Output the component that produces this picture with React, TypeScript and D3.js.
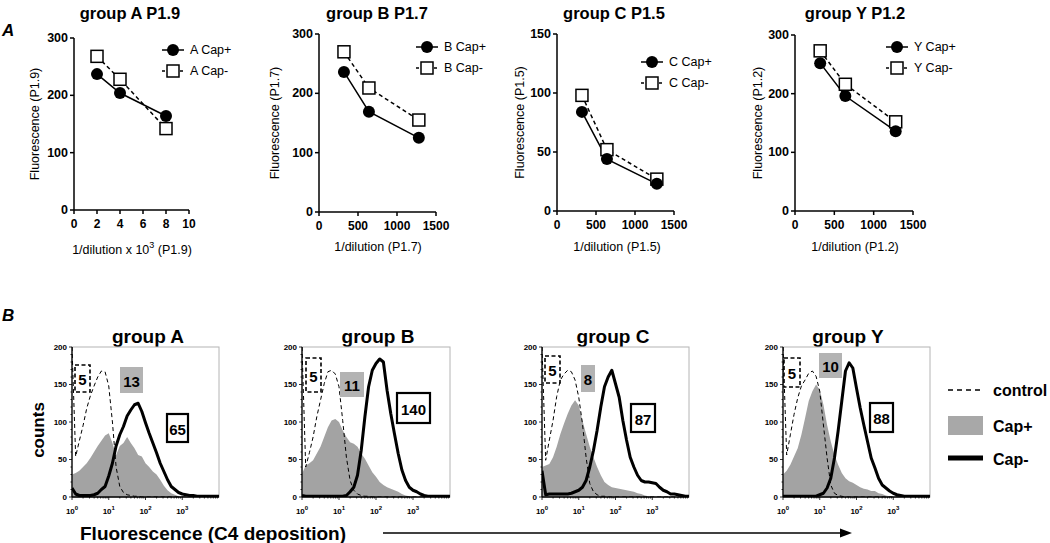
import React from 'react';
import * as d3 from 'd3';

const FONT = '"Liberation Sans", Arial, sans-serif';

// ---------- Panel A: titration curves ----------
const dilutionA = [2, 4, 8];
const dilutionBCY = [320, 640, 1280];
const capPlusA = [237, 204, 164];
const capMinusA = [268, 228, 142];
const capPlusB = [236, 169, 125];
const capMinusB = [270, 209, 155];
const capPlusC = [84, 44, 23];
const capMinusC = [98, 52, 27];
const capPlusY = [252, 196, 136];
const capMinusY = [273, 216, 152];

const ticks300 = [0, 100, 200, 300];
const ticks150 = [0, 50, 100, 150];
const ticksX10 = [0, 2, 4, 6, 8, 10];
const ticksX1500 = [0, 500, 1000, 1500];

// ---------- Panel B: flow histograms (counts at log10 fluorescence 0..4, step 0.1) ----------
const logBins = d3.range(0, 41).map((i) => i / 10);

const controlA = [200, 54, 75, 95, 118, 135, 148, 160, 168, 167, 148, 100, 40, 14, 6, 3, 2, 1, 1, 0, 0, 0, 0, 0, 0, 0, 0, 0, 0, 0, 0, 0, 0, 0, 0, 0, 0, 0, 0, 0, 0];
const plusA = [30, 32, 35, 40, 45, 52, 60, 68, 75, 82, 85, 72, 56, 68, 72, 80, 72, 65, 56, 54, 45, 40, 34, 30, 23, 15, 9, 5, 3, 1, 0, 0, 0, 0, 0, 0, 0, 0, 0, 0, 0];
const minusA = [12, 4, 2, 2, 2, 2, 3, 5, 10, 14, 28, 45, 68, 83, 94, 108, 116, 123, 125, 114, 99, 85, 72, 59, 45, 34, 23, 14, 10, 6, 4, 3, 2, 2, 1, 1, 1, 1, 1, 1, 1];

const controlB = [200, 40, 59, 80, 107, 129, 151, 167, 169, 164, 147, 102, 53, 22, 9, 4, 2, 1, 1, 0, 0, 0, 0, 0, 0, 0, 0, 0, 0, 0, 0, 0, 0, 0, 0, 0, 0, 0, 0, 0, 0];
const plusB = [31, 42, 45, 49, 58, 67, 80, 93, 102, 104, 100, 89, 80, 73, 71, 67, 58, 51, 42, 33, 27, 20, 16, 13, 11, 9, 7, 4, 2, 1, 0, 0, 0, 0, 0, 0, 0, 0, 0, 0, 0];
const minusB = [2, 1, 1, 1, 1, 1, 1, 1, 1, 1, 1, 1, 2, 7, 13, 29, 62, 107, 147, 169, 178, 184, 180, 142, 111, 84, 58, 36, 22, 13, 9, 7, 4, 2, 1, 1, 1, 1, 1, 1, 1];

const controlC = [200, 49, 76, 102, 134, 156, 164, 169, 167, 156, 133, 98, 53, 18, 7, 3, 1, 1, 0, 0, 0, 0, 0, 0, 0, 0, 0, 0, 0, 0, 0, 0, 0, 0, 0, 0, 0, 0, 0, 0, 0];
const plusC = [40, 42, 44, 53, 67, 84, 98, 111, 122, 129, 122, 102, 84, 67, 53, 40, 29, 20, 16, 13, 12, 11, 10, 9, 8, 7, 5, 4, 2, 1, 0, 0, 0, 0, 0, 0, 0, 0, 0, 0, 0];
const minusC = [35, 3, 4, 4, 4, 4, 4, 4, 5, 7, 9, 13, 22, 40, 62, 89, 120, 147, 160, 169, 151, 133, 102, 76, 53, 40, 29, 22, 20, 20, 19, 18, 13, 9, 7, 4, 4, 3, 2, 1, 1];

const controlY = [200, 56, 83, 110, 132, 148, 156, 165, 168, 161, 141, 96, 52, 16, 5, 2, 1, 0, 0, 0, 0, 0, 0, 0, 0, 0, 0, 0, 0, 0, 0, 0, 0, 0, 0, 0, 0, 0, 0, 0, 0];
const plusY = [30, 35, 43, 54, 65, 83, 105, 128, 141, 150, 143, 123, 96, 74, 56, 43, 32, 25, 21, 19, 16, 13, 11, 10, 8, 8, 5, 4, 2, 1, 0, 0, 0, 0, 0, 0, 0, 0, 0, 0, 0];
const minusY = [1, 1, 1, 1, 1, 1, 1, 1, 1, 1, 3, 5, 12, 25, 52, 88, 128, 168, 179, 172, 145, 119, 96, 74, 52, 39, 25, 16, 12, 8, 5, 3, 2, 1, 1, 1, 1, 1, 1, 1, 1];

const countTicks = [0, 50, 100, 150, 200];
const decades = [0, 1, 2, 3];
const mfiControl = ['5', '5', '5', '5'];
const mfiPlus = ['13', '11', '8', '10'];
const mfiMinus = ['65', '140', '87', '88'];

const linePanels = [
  { title: 'group A P1.9', g: 'A', xs: dilutionA, plus: capPlusA, minus: capMinusA, xMax: 10, xTicks: ticksX10, yMax: 300, yTicks: ticks300, yLabel: 'Fluorescence (P1.9)', xLabel: 'P1.9', sup: true,
    l: 74, r: 189, t: 38, b: 210, titleX: 130, yLabX: 35, legX: 173, legY: 50, xLabX: 132, xLabY: 250 },
  { title: 'group B P1.7', g: 'B', xs: dilutionBCY, plus: capPlusB, minus: capMinusB, xMax: 1500, xTicks: ticksX1500, yMax: 300, yTicks: ticks300, yLabel: 'Fluorescence (P1.7)', xLabel: 'P1.7', sup: false,
    l: 319, r: 436, t: 34, b: 212, titleX: 377, yLabX: 275, legX: 427, legY: 47, xLabX: 378, xLabY: 247 },
  { title: 'group C P1.5', g: 'C', xs: dilutionBCY, plus: capPlusC, minus: capMinusC, xMax: 150 * 10, xTicks: ticksX1500, yMax: 150, yTicks: ticks150, yLabel: 'Fluorescence (P1.5)', xLabel: 'P1.5', sup: false,
    l: 557, r: 674, t: 34, b: 211, titleX: 614, yLabX: 520, legX: 652, legY: 62, xLabX: 617, xLabY: 247 },
  { title: 'group Y P1.2', g: 'Y', xs: dilutionBCY, plus: capPlusY, minus: capMinusY, xMax: 1500, xTicks: ticksX1500, yMax: 300, yTicks: ticks300, yLabel: 'Fluorescence (P1.2)', xLabel: 'P1.2', sup: false,
    l: 795, r: 913, t: 35, b: 211, titleX: 855, yLabX: 758, legX: 897, legY: 47, xLabX: 855, xLabY: 247 },
];

const histPanels = [
  { title: 'group A', control: controlA, plus: plusA, minus: minusA, l: 72, r: 219, titleX: 148,
    boxes: [[75, 365, 90, 392], [120, 367, 143, 393], [167, 414, 188, 442]] },
  { title: 'group B', control: controlB, plus: plusB, minus: minusB, l: 302, r: 450, titleX: 378,
    boxes: [[306, 358, 321, 392], [340, 372, 364, 397], [397, 393, 430, 423]] },
  { title: 'group C', control: controlC, plus: plusC, minus: minusC, l: 542, r: 689, titleX: 613,
    boxes: [[545, 356, 560, 383], [581, 365, 595, 392], [631, 404, 655, 432]] },
  { title: 'group Y', control: controlY, plus: plusY, minus: minusY, l: 783, r: 930, titleX: 848,
    boxes: [[784, 358, 800, 387], [819, 353, 842, 378], [870, 403, 893, 432]] },
];

const H_TOP = 347;
const H_BOT = 497;

const LinePanel: React.FC<{ p: any }> = ({ p }) => {
  const x = d3.scaleLinear().domain([0, p.xMax]).range([p.l, p.r]);
  const y = d3.scaleLinear().domain([0, p.yMax]).range([p.b, p.t]);
  const line = d3.line<number>().x((_, i) => x(p.xs[i])).y((d) => y(d));
  return (
    <g fontFamily={FONT}>
      <text x={p.titleX} y={19} textAnchor="middle" fontSize={16.5} fontWeight="bold">{p.title}</text>
      {/* axes */}
      <line x1={p.l} x2={p.l} y1={p.t} y2={p.b} stroke="#000" strokeWidth={1.5} />
      <line x1={p.l} x2={p.r} y1={p.b} y2={p.b} stroke="#000" strokeWidth={1.5} />
      {p.yTicks.map((t: number) => (
        <g key={'y' + t}>
          <line x1={p.l - 4} x2={p.l} y1={y(t)} y2={y(t)} stroke="#000" strokeWidth={1.5} />
          <text x={p.l - 6} y={y(t)} textAnchor="end" dominantBaseline="central" fontSize={12.5} fontWeight="bold">{t}</text>
        </g>
      ))}
      {p.xTicks.map((t: number) => (
        <g key={'x' + t}>
          <line x1={x(t)} x2={x(t)} y1={p.b} y2={p.b + 4} stroke="#000" strokeWidth={1.5} />
          <text x={x(t)} y={p.b + 14} textAnchor="middle" dominantBaseline="central" fontSize={12} fontWeight="bold">{t}</text>
        </g>
      ))}
      <text transform={`translate(${p.yLabX},${(p.t + p.b) / 2}) rotate(-90)`} textAnchor="middle" dominantBaseline="central" fontSize={12.5}>{p.yLabel}</text>
      <text x={p.xLabX} y={p.xLabY} textAnchor="middle" dominantBaseline="central" fontSize={12.5}>
        {p.sup ? (
          <>
            1/dilution x 10<tspan dy={-5} fontSize={9}>3</tspan><tspan dy={5}> ({p.xLabel})</tspan>
          </>
        ) : (
          `1/dilution (${p.xLabel})`
        )}
      </text>
      {/* series */}
      <path d={line(p.minus) || ''} fill="none" stroke="#000" strokeWidth={1.5} strokeDasharray="4,3" />
      <path d={line(p.plus) || ''} fill="none" stroke="#000" strokeWidth={1.5} />
      {p.minus.map((v: number, i: number) => (
        <rect key={'m' + i} x={x(p.xs[i]) - 6} y={y(v) - 6} width={12} height={12} fill="#fff" stroke="#000" strokeWidth={1.5} />
      ))}
      {p.plus.map((v: number, i: number) => (
        <circle key={'p' + i} cx={x(p.xs[i])} cy={y(v)} r={6} fill="#000" />
      ))}
      {/* legend */}
      <line x1={p.legX - 11} x2={p.legX + 11} y1={p.legY} y2={p.legY} stroke="#000" strokeWidth={1.5} />
      <circle cx={p.legX} cy={p.legY} r={6} fill="#000" />
      <text x={p.legX + 17} y={p.legY} dominantBaseline="central" fontSize={12.5}>{p.g} Cap+</text>
      <line x1={p.legX - 11} x2={p.legX + 11} y1={p.legY + 21} y2={p.legY + 21} stroke="#000" strokeWidth={1.5} strokeDasharray="3,3" />
      <rect x={p.legX - 6} y={p.legY + 15} width={12} height={12} fill="#fff" stroke="#000" strokeWidth={1.5} />
      <text x={p.legX + 17} y={p.legY + 21} dominantBaseline="central" fontSize={12.5}>{p.g} Cap-</text>
    </g>
  );
};

const HistPanel: React.FC<{ p: any; i: number }> = ({ p, i }) => {
  const x = d3.scaleLinear().domain([0, 4]).range([p.l, p.r]);
  const y = d3.scaleLinear().domain([0, 200]).range([H_BOT, H_TOP]);
  const area = d3.area<number>().x((_, k) => x(logBins[k])).y0(H_BOT).y1((d) => y(d));
  const line = d3.line<number>().x((_, k) => x(logBins[k])).y((d) => y(d));
  const minorY = d3.range(0, 201, 10);
  const minorX = decades.flatMap((d) => [2, 3, 4, 5, 6, 7, 8, 9].map((m) => d + Math.log10(m)));
  const clipId = 'clip' + i;
  const [b0, b1, b2] = p.boxes;
  return (
    <g fontFamily={FONT}>
      <defs>
        <clipPath id={clipId}>
          <rect x={p.l} y={H_TOP - 1} width={p.r - p.l} height={H_BOT - H_TOP + 1} />
        </clipPath>
      </defs>
      <text x={p.titleX} y={343} textAnchor="middle" fontSize={19} fontWeight="bold">{p.title}</text>
      <rect x={p.l} y={H_TOP} width={p.r - p.l} height={H_BOT - H_TOP} fill="#fff" stroke="#b4b4b4" strokeWidth={1} />
      <g clipPath={`url(#${clipId})`}>
        <path d={area(p.plus) || ''} fill="#a3a3a3" />
        <path d={line(p.control) || ''} fill="none" stroke="#000" strokeWidth={1} strokeDasharray="4,3" />
        <path d={line(p.minus) || ''} fill="none" stroke="#000" strokeWidth={3} strokeLinejoin="round" />
      </g>
      <line x1={p.l} x2={p.l} y1={H_TOP} y2={H_BOT} stroke="#000" strokeWidth={1.3} />
      <line x1={p.l} x2={p.r} y1={H_BOT} y2={H_BOT} stroke="#000" strokeWidth={1.3} />
      {minorY.map((t) => (
        <line key={'my' + t} x1={p.l - (t % 50 === 0 ? 3 : 1.5)} x2={p.l} y1={y(t)} y2={y(t)} stroke="#000" strokeWidth={0.8} />
      ))}
      {countTicks.map((t) => (
        <text key={'ty' + t} x={p.l - 5} y={y(t)} textAnchor="end" dominantBaseline="central" fontSize={8} fontWeight="bold">{t}</text>
      ))}
      {minorX.map((t, k) => (
        <line key={'mx' + k} x1={x(t)} x2={x(t)} y1={H_BOT} y2={H_BOT + 1.5} stroke="#000" strokeWidth={0.8} />
      ))}
      {decades.map((d) => (
        <g key={'d' + d}>
          <line x1={x(d)} x2={x(d)} y1={H_BOT} y2={H_BOT + 3} stroke="#000" strokeWidth={0.8} />
          <text x={x(d)} y={514} textAnchor="middle" fontSize={8} fontWeight="bold">
            10<tspan dy={-4} fontSize={6}>{d}</tspan>
          </text>
        </g>
      ))}
      {/* MFI labels */}
      <rect x={b0[0]} y={b0[1]} width={b0[2] - b0[0]} height={b0[3] - b0[1]} fill="#fff" stroke="#000" strokeWidth={1.6} strokeDasharray="4,2.5" />
      <text x={(b0[0] + b0[2]) / 2} y={(b0[1] + b0[3]) / 2 + 1} textAnchor="middle" dominantBaseline="central" fontSize={15} fontWeight="bold">{mfiControl[i]}</text>
      <rect x={b1[0]} y={b1[1]} width={b1[2] - b1[0]} height={b1[3] - b1[1]} fill="#b3b3b3" />
      <text x={(b1[0] + b1[2]) / 2} y={(b1[1] + b1[3]) / 2 + 1} textAnchor="middle" dominantBaseline="central" fontSize={15} fontWeight="bold">{mfiPlus[i]}</text>
      <rect x={b2[0]} y={b2[1]} width={b2[2] - b2[0]} height={b2[3] - b2[1]} fill="#fff" stroke="#000" strokeWidth={2.2} />
      <text x={(b2[0] + b2[2]) / 2} y={(b2[1] + b2[3]) / 2 + 1} textAnchor="middle" dominantBaseline="central" fontSize={15} fontWeight="bold">{mfiMinus[i]}</text>
    </g>
  );
};

export default function App() {
  return (
    <svg width={1050} height={543} style={{ position: 'absolute', left: 0, top: 0, background: '#fff' }} fontFamily={FONT}>
      <rect width={1050} height={543} fill="#fff" />
      <text x={2} y={36} fontSize={17} fontWeight="bold" fontStyle="italic">A</text>
      <text x={2} y={321} fontSize={17} fontWeight="bold" fontStyle="italic">B</text>
      {linePanels.map((p) => (
        <LinePanel key={p.title} p={p} />
      ))}
      {histPanels.map((p, i) => (
        <HistPanel key={p.title} p={p} i={i} />
      ))}
      <text transform="translate(38,430) rotate(-90)" textAnchor="middle" dominantBaseline="central" fontSize={17} fontWeight="bold">counts</text>
      {/* shared x label and arrow */}
      <text x={80} y={540} fontSize={19} fontWeight="bold">Fluorescence (C4 deposition)</text>
      <line x1={383} x2={842} y1={533} y2={533} stroke="#000" strokeWidth={1.5} />
      <path d="M852,533 L840,528.5 L840,537.5 Z" fill="#000" />
      {/* legend panel B */}
      <line x1={948} x2={982} y1={390} y2={390} stroke="#000" strokeWidth={1.3} strokeDasharray="5,4" />
      <text x={993} y={390} dominantBaseline="central" fontSize={16} fontWeight="bold">control</text>
      <rect x={948} y={416} width={35} height={19} fill="#a8a8a8" />
      <text x={993} y={426} dominantBaseline="central" fontSize={16} fontWeight="bold">Cap+</text>
      <line x1={948} x2={983} y1={458} y2={458} stroke="#000" strokeWidth={5} />
      <text x={993} y={459} dominantBaseline="central" fontSize={16} fontWeight="bold">Cap-</text>
    </svg>
  );
}
